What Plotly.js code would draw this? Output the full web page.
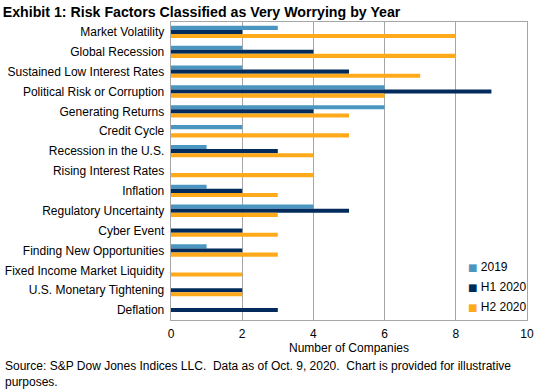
<!DOCTYPE html>
<html>
<head>
<meta charset="utf-8">
<script src="https://cdn.plot.ly/plotly-3.0.1.min.js"></script>
<style>html,body{margin:0;padding:0;background:#fff;}#chart{width:540px;height:389px;}</style>
</head>
<body>
<div id="chart"></div>
<script>
const categories = ["Market Volatility","Global Recession","Sustained Low Interest Rates","Political Risk or Corruption","Generating Returns","Credit Cycle","Recession in the U.S.","Rising Interest Rates","Inflation","Regulatory Uncertainty","Cyber Event","Finding New Opportunities","Fixed Income Market Liquidity","U.S. Monetary Tightening","Deflation"];
const s2019 = [3,2,2,6,6,2,1,0,1,4,0,1,0,0,0];
const h1_2020 = [2,4,5,9,4,0,3,0,2,5,2,2,0,2,3];
const h2_2020 = [8,8,7,6,5,5,4,4,3,3,3,3,2,2,0];
const seriesNames = ["2019","H1 2020","H2 2020"];
const colors = ["#4A96C1","#002B5C","#FFAA1A"];
const xTicks = [0,2,4,6,8,10];

const data = [s2019,h1_2020,h2_2020].map((v,i)=>({
  type:'bar', orientation:'h', x:v, y:categories, name:seriesNames[i],
  marker:{color:colors[i]}, hoverinfo:'none'
}));

const plotW = 356, plotH = 298;
const legendAnn = seriesNames.map((n,i)=>({
  xref:'paper', yref:'paper', x:(466-171)/plotW, y:(320-267+20*i*-1)/plotH,
  xanchor:'left', yanchor:'middle', showarrow:false, align:'left',
  text:'<span style="color:'+colors[i]+';font-family:DejaVu Sans;font-size:10px">■</span> '+n,
  font:{size:12}
}));

const layout = {
  width:540, height:389,
  margin:{l:171,r:13,t:22,b:69},
  paper_bgcolor:'#fff', plot_bgcolor:'#fff',
  font:{family:'"Liberation Sans", Arial, sans-serif', size:12, color:'#000'},
  barmode:'group', bargap:0.38, bargroupgap:0,
  showlegend:false,
  title:{text:'<b>Exhibit 1: Risk Factors Classified as Very Worrying by Year</b>', x:0.005, xanchor:'left', y:0.968, yanchor:'middle', font:{size:14.2, family:'"Liberation Sans", Arial, sans-serif'}},
  xaxis:{range:[0,10], tickvals:xTicks, showgrid:true, gridcolor:'#A6A6A6', gridwidth:1, zeroline:false,
    showline:true, linecolor:'#A6A6A6', mirror:true, ticks:'', tickfont:{size:12}, ticklabelstandoff:3,
    title:{text:'Number of Companies', font:{size:12}, standoff:2}},
  yaxis:{autorange:'reversed', showline:true, linecolor:'#A6A6A6', mirror:true, ticks:'', tickfont:{size:12}, showgrid:false, ticksuffix:' '},
  annotations:[{xref:'paper', yref:'paper', x:-168/plotW, y:-37/plotH, xanchor:'left', yanchor:'top', align:'left', showarrow:false,
    text:'Source: S&P Dow Jones Indices LLC.  Data as of Oct. 9, 2020.  Chart is provided for illustrative<br>purposes.', font:{size:12}}].concat(legendAnn)
};
Plotly.newPlot('chart', data, layout, {staticPlot:true, displayModeBar:false});
</script>
</body>
</html>
